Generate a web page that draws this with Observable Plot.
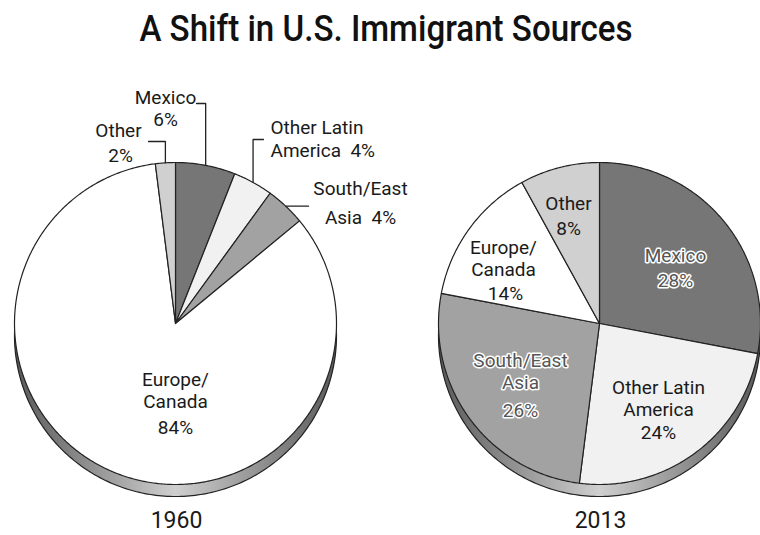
<!DOCTYPE html>
<html><head><meta charset="utf-8">
<script src="https://cdn.jsdelivr.net/npm/d3@7"></script>
<script src="https://cdn.jsdelivr.net/npm/@observablehq/plot@0.6"></script>
<style>
body{margin:0;background:#fff;width:760px;height:535px;overflow:hidden;font-family:Roboto,"Liberation Sans",sans-serif}
#title{height:60px;position:relative}
#title span{position:absolute;left:386px;top:9px;transform:translateX(-50%) scaleX(0.92);white-space:nowrap;font-size:36px;font-weight:500;color:#111;line-height:40px}
#chart svg{display:block}
</style></head><body>
<div id="title"><span>A Shift in U.S. Immigrant Sources</span></div>
<div id="chart"></div>
<script>
// ---- data ----
const categories = ["Mexico", "Other Latin America", "South/East Asia", "Europe/Canada", "Other"];
const shares1960 = [6, 4, 4, 84, 2];
const shares2013 = [28, 24, 26, 14, 8];
const years = ["1960", "2013"];

// ---- layout / style ----
const TOP = 60, W = 760, H = 535 - TOP;
const R = 161, DEPTH = 12;
const fills = {"Mexico": "#767676", "Other Latin America": "#f1f1f1", "South/East Asia": "#a2a2a2", "Europe/Canada": "#ffffff", "Other": "#d0d0d0"};
const pies = [
  {year: years[0], values: shares1960, cx: 175, cy: 323},
  {year: years[1], values: shares2013, cx: 599, cy: 323}
];
// label lines: [category index, template, x offset, y offset, anchor, halo]
const labelLayout = [
  [
    [0, "{c}", -10, -226, "middle"], [0, "{v}%", -10, -204, "middle"],
    [4, "{c}", -57, -193, "middle"], [4, "{v}%", -55, -168, "middle"],
    [1, "Other Latin", 95, -196, "start"], [1, "America  {v}%", 95, -173, "start"],
    [2, "South/East", 185, -135, "middle"], [2, "Asia  {v}%", 185, -106, "middle"],
    [3, "Europe/", 0, 56, "middle"], [3, "Canada", 0, 78, "middle"], [3, "{v}%", 0, 104, "middle"]
  ],
  [
    [4, "{c}", -31, -120, "middle"], [4, "{v}%", -31, -95, "middle"],
    [3, "Europe/", -96, -76, "middle"], [3, "Canada", -96, -54, "middle"], [3, "{v}%", -94, -30, "middle"],
    [0, "{c}", 76, -68, "middle", true], [0, "{v}%", 76, -43, "middle", true],
    [2, "South/East", -79, 37, "middle", true], [2, "Asia", -79, 59, "middle", true], [2, "{v}%", -79, 87, "middle", true],
    [1, "Other Latin", 59, 64, "middle"], [1, "America", 59, 86, "middle"], [1, "{v}%", 59, 109, "middle"]
  ]
];
// leader lines (1960): [category index, elbow y, text-side x]
const leaderLayout = [[0, 103, 196], [4, 141, 148], [1, 139, 263], [2, null, 308]];

const slicePts = [], shadowPts = [], labels = [], leaders = [], yearLabels = [];
pies.forEach((p, pi) => {
  const arcs = d3.pie().sort(null).value(d => d.v)(categories.map((c, i) => ({c, i, v: p.values[i]})));
  arcs.forEach(a => {
    const id = p.year + a.data.c;
    const n = Math.max(4, Math.ceil((a.endAngle - a.startAngle) / 0.01));
    slicePts.push({id, x: p.cx, y: p.cy, fill: fills[a.data.c]});
    for (let k = 0; k <= n; k++) {
      const t = a.startAngle + (a.endAngle - a.startAngle) * k / n;
      slicePts.push({id, x: p.cx + R * Math.sin(t), y: p.cy - R * Math.cos(t), fill: fills[a.data.c]});
    }
    slicePts.push({id, x: p.cx, y: p.cy, fill: fills[a.data.c]});
  });
  for (let k = 0; k <= 360; k++) {
    const t = k * Math.PI / 180;
    shadowPts.push({id: p.year, x: p.cx + R * Math.sin(t), y: p.cy + DEPTH - R * Math.cos(t)});
  }
  labelLayout[pi].forEach(([ci, tpl, dx, dy, anchor, halo]) => {
    labels.push({x: p.cx + dx, y: p.cy + dy, anchor, halo: !!halo,
      text: tpl.replace("{c}", categories[ci]).replace("{v}", p.values[ci])});
  });
  yearLabels.push({x: p.cx + 1, y: 520, text: p.year});
  if (pi === 0) {
    leaderLayout.forEach(([ci, ey, tx]) => {
      const a = arcs[ci];
      const m = (a.startAngle + a.endAngle) / 2;
      const ex = p.cx + R * Math.sin(m), eyy = p.cy - R * Math.cos(m);
      const id = "L" + ci;
      if (ey == null) {
        leaders.push({id, x: ex, y: eyy}, {id, x: tx, y: eyy});
      } else {
        leaders.push({id, x: ex, y: eyy}, {id, x: ex, y: ey}, {id, x: tx, y: ey});
      }
    });
  }
});

const defs = () => {
  const ns = "http://www.w3.org/2000/svg";
  const g = document.createElementNS(ns, "defs");
  g.innerHTML = `<linearGradient id="shade" x1="0" x2="1" y1="0" y2="0">
    <stop offset="0" stop-color="#5a5a5a"/><stop offset="0.5" stop-color="#cfcfcf"/><stop offset="1" stop-color="#5a5a5a"/></linearGradient>`;
  return g;
};

const textOpts = (anchor, halo) => halo
  ? {x: "x", y: "y", text: "text", textAnchor: anchor, fontSize: 19, fill: "#555", stroke: "#fff", strokeWidth: 3, paintOrder: "stroke"}
  : {x: "x", y: "y", text: "text", textAnchor: anchor, fontSize: 19, fill: "#1a1a1a"};
const textMarks = [];
for (const anchor of ["start", "middle", "end"]) {
  for (const halo of [false, true]) {
    const sub = labels.filter(d => d.anchor === anchor && d.halo === halo);
    if (sub.length) textMarks.push(Plot.text(sub, textOpts(anchor, halo)));
  }
}

const chart = Plot.plot({
  width: W, height: H,
  marginTop: 0, marginBottom: 0, marginLeft: 0, marginRight: 0,
  x: {domain: [0, W], range: [0, W], axis: null},
  y: {domain: [TOP, 535], range: [0, H], axis: null},
  style: {fontFamily: "Roboto, 'Liberation Sans', sans-serif", background: "#fff"},
  marks: [
    defs,
    Plot.line(shadowPts, {x: "x", y: "y", z: "id", fill: "url(#shade)", stroke: "#222", strokeWidth: 1.2}),
    Plot.line(slicePts, {x: "x", y: "y", z: "id", fill: "fill", stroke: "#222", strokeWidth: 1.2, strokeLinejoin: "round"}),
    Plot.line(leaders, {x: "x", y: "y", z: "id", stroke: "#222", strokeWidth: 1.3}),
    ...textMarks,
    Plot.text(yearLabels, {x: "x", y: "y", text: "text", fontSize: 23, fill: "#1a1a1a"})
  ]
});
document.getElementById("chart").appendChild(chart);
</script>
</body></html>
